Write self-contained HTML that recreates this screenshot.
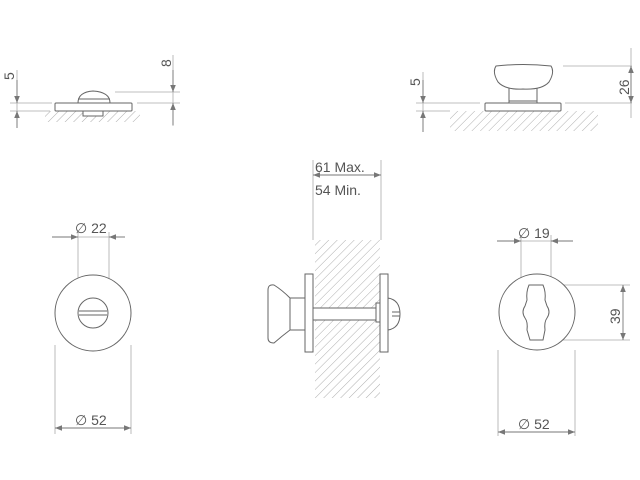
<!DOCTYPE html>
<html><head><style>body{margin:0;background:#fff}svg{display:block}text{font-family:"Liberation Sans",sans-serif;fill:#555}</style></head>
<body>
<svg width="640" height="480" viewBox="0 0 640 480" xmlns="http://www.w3.org/2000/svg">
<defs>
<pattern id="h" patternUnits="userSpaceOnUse" width="6" height="6" patternTransform="rotate(45)">
<line x1="0" y1="0" x2="0" y2="6" stroke="#999" stroke-width="0.8"/>
</pattern>
<marker id="a" viewBox="0 0 10 10" refX="10" refY="5" markerWidth="13" markerHeight="7" orient="auto-start-reverse" markerUnits="userSpaceOnUse">
<path d="M0,1 L10,5 L0,9 z" fill="#777"/>
</marker>
</defs>
<g stroke="#aaa" stroke-width="0.8" fill="none">
<line x1="10" y1="103" x2="52" y2="103"/><line x1="137" y1="103" x2="180" y2="103"/>
<line x1="10" y1="111" x2="50" y2="111"/><line x1="115" y1="92" x2="180" y2="92"/>
<line x1="17" y1="70" x2="17" y2="128"/><line x1="173" y1="55" x2="173" y2="126"/>
<line x1="416" y1="103" x2="480" y2="103"/><line x1="565" y1="103" x2="632" y2="103"/>
<line x1="416" y1="111" x2="450" y2="111"/><line x1="563" y1="66" x2="632" y2="66"/>
<line x1="423" y1="72" x2="423" y2="132"/><line x1="631" y1="48" x2="631" y2="118"/>
<line x1="78" y1="232" x2="78" y2="300"/><line x1="109" y1="232" x2="109" y2="300"/>
<line x1="52" y1="237" x2="125" y2="237"/>
<line x1="55" y1="345" x2="55" y2="434"/><line x1="131" y1="345" x2="131" y2="434"/>
<line x1="521" y1="235" x2="521" y2="295"/><line x1="551" y1="235" x2="551" y2="295"/>
<line x1="497" y1="241" x2="573" y2="241"/>
<line x1="555" y1="285" x2="630" y2="285"/><line x1="563" y1="340" x2="630" y2="340"/>
<line x1="498" y1="350" x2="498" y2="436"/><line x1="575" y1="350" x2="575" y2="436"/>
<line x1="313" y1="160" x2="313" y2="240"/><line x1="381" y1="160" x2="381" y2="240"/>
</g>
<rect x="45" y="111" width="95" height="11" fill="url(#h)"/>
<rect x="450" y="111" width="148" height="20" fill="url(#h)"/>
<rect x="315" y="240" width="65" height="158" fill="url(#h)"/>
<g stroke="#777" stroke-width="0.9" fill="none">
<line x1="17" y1="80" x2="17" y2="103" marker-end="url(#a)"/>
<line x1="17" y1="128" x2="17" y2="111" marker-end="url(#a)"/>
<line x1="173" y1="70" x2="173" y2="92" marker-end="url(#a)"/>
<line x1="173" y1="125" x2="173" y2="103" marker-end="url(#a)"/>
<line x1="423" y1="80" x2="423" y2="103" marker-end="url(#a)"/>
<line x1="423" y1="132" x2="423" y2="111" marker-end="url(#a)"/>
<line x1="631" y1="84" x2="631" y2="66" marker-end="url(#a)"/>
<line x1="631" y1="84" x2="631" y2="103" marker-end="url(#a)"/>
<line x1="52" y1="237" x2="78" y2="237" marker-end="url(#a)"/>
<line x1="125" y1="237" x2="109" y2="237" marker-end="url(#a)"/>
<line x1="55" y1="428" x2="131" y2="428" marker-start="url(#a)" marker-end="url(#a)"/>
<line x1="497" y1="241" x2="521" y2="241" marker-end="url(#a)"/>
<line x1="573" y1="241" x2="551" y2="241" marker-end="url(#a)"/>
<line x1="623" y1="285" x2="623" y2="340" marker-start="url(#a)" marker-end="url(#a)"/>
<line x1="498" y1="432" x2="575" y2="432" marker-start="url(#a)" marker-end="url(#a)"/>
<line x1="313" y1="175" x2="381" y2="175" marker-start="url(#a)" marker-end="url(#a)"/>
</g>
<g stroke="#666" stroke-width="1" fill="#fff">
<rect x="83" y="111" width="20" height="5"/>
<rect x="55" y="103" width="77" height="8" rx="1"/>
<path d="M78,103 Q78,92 93,91 Q110,92 110,103 z"/>
<line x1="78" y1="99" x2="110" y2="99"/>
<rect x="485" y="103" width="76" height="8" rx="1"/>
<rect x="509" y="88" width="28" height="15"/>
<line x1="509" y1="101" x2="537" y2="101"/>
<path d="M496,66 Q492,72 498,82 Q505,90 523,89 Q542,90 549,82 Q555,72 551,66 Q523,63 496,66 z"/>
<circle cx="93" cy="313" r="38"/>
<circle cx="93" cy="313" r="15"/>
<line x1="79" y1="311" x2="107" y2="311"/><line x1="79" y1="315" x2="107" y2="315"/>
<circle cx="537" cy="312" r="38"/>
<path d="M529,285 L543,285 Q546,292 545,300 L547,306 Q551,312 547,318 Q544,322 545,330 L543,340 L530,340 L527,330 Q528,322 525,318 Q521,312 525,306 L527,300 Q526,292 529,285 z"/>
<rect x="313" y="308" width="63" height="12"/>
<rect x="376" y="303" width="4" height="19"/>
<path d="M268,290 Q268,284 274,285 Q282,290 290,298 L290,330 Q282,336 274,343 Q268,343 268,338 z"/>
<rect x="290" y="298" width="15" height="32"/>
<rect x="305" y="274" width="8" height="78"/>
<rect x="380" y="274" width="8" height="78"/>
<path d="M388,298 Q400,300 400,314 Q400,328 388,330 z"/>
<line x1="392" y1="312" x2="400" y2="312"/><line x1="392" y1="316" x2="400" y2="316"/>
</g>
<g font-size="14">
<text transform="translate(14,80) rotate(-90)">5</text>
<text transform="translate(171,67) rotate(-90)">8</text>
<text transform="translate(420,86) rotate(-90)">5</text>
<text transform="translate(629,95) rotate(-90)">26</text>
<text transform="translate(620,324) rotate(-90)">39</text>
<text x="75" y="233">∅ 22</text>
<text x="75" y="425">∅ 52</text>
<text x="518" y="238">∅ 19</text>
<text x="518" y="429">∅ 52</text>
<text x="315" y="172">61 Max.</text>
<text x="315" y="195">54 Min.</text>
</g>
</svg>
</body></html>
